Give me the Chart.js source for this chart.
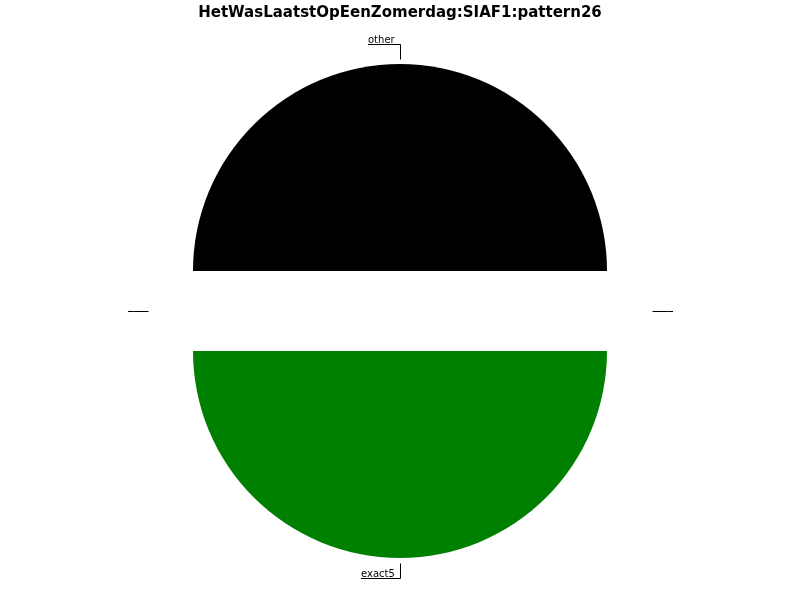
<!DOCTYPE html>
<html>
<head>
<meta charset="utf-8">
<script src="https://cdn.jsdelivr.net/npm/chart.js@4.4.1/dist/chart.umd.min.js"></script>
<style>
  html, body { margin: 0; padding: 0; background: #fff; }
  #wrap { width: 800px; height: 600px; }
</style>
</head>
<body>
<div id="wrap"><canvas id="pieChart"></canvas></div>
<script>
/* =========================
   DATA
========================= */
const titleText = "HetWasLaatstOpEenZomerdag:SIAF1:pattern26";
const sliceLabels = ["other", "", "exact5", ""];
const sliceValues = [50, 0, 50, 0];
const sliceColors = ["#000000", "#ffffff", "#008000", "#ffffff"];

/* =========================
   EXPLODED SLICES
   (move every arc out along its middle angle)
========================= */
const EXPLODE = 40;
const baseArcDraw = Chart.ArcElement.prototype.draw;
Chart.ArcElement.prototype.draw = function(ctx){
    const mid = (this.startAngle + this.endAngle) / 2;
    ctx.save();
    ctx.translate(Math.cos(mid) * EXPLODE, Math.sin(mid) * EXPLODE);
    baseArcDraw.call(this, ctx);
    ctx.restore();
};

/* =========================
   LABELS WITH LEADER LINES
========================= */
const leaderLabels = {
    id: 'leaderLabels',
    afterDatasetsDraw(chart){
        const ctx = chart.ctx;
        const meta = chart.getDatasetMeta(0);
        ctx.save();
        ctx.font = "10px 'DejaVu Sans'";
        ctx.strokeStyle = "#000";
        ctx.fillStyle = "#000";
        ctx.lineWidth = 1;
        ctx.textBaseline = "alphabetic";

        meta.data.forEach((arc, i) => {
            const p = arc.getProps(['x', 'y', 'startAngle', 'endAngle', 'outerRadius'], true);
            const mid = (p.startAngle + p.endAngle) / 2;
            const cx = Math.cos(mid), cy = Math.sin(mid);
            const r1 = p.outerRadius + EXPLODE + 5;
            const r2 = r1 + 15;

            const x1 = Math.round(p.x + cx * r1) + 0.5;
            const y1 = Math.round(p.y + cy * r1) + 0.5;
            const x2 = Math.round(p.x + cx * r2) + 0.5;
            const y2 = Math.round(p.y + cy * r2) + 0.5;

            const text = sliceLabels[i];
            const len = Math.round(ctx.measureText(text).width) + 5;
            const side = cx > 0.5 ? 1 : -1;
            const x3 = x2 + side * (len + 0.5);

            ctx.beginPath();
            ctx.moveTo(x1, y1);
            ctx.lineTo(x2, y2);
            ctx.lineTo(x3, y2);
            ctx.stroke();

            if(text){
                ctx.textAlign = side < 0 ? "left" : "right";
                ctx.fillText(text, x3, y2 - 2);
            }
        });
        ctx.restore();
    }
};

/* =========================
   CHART
========================= */
new Chart(document.getElementById('pieChart'), {
    type: 'pie',
    data: {
        labels: sliceLabels,
        datasets: [{
            data: sliceValues,
            backgroundColor: sliceColors,
            borderWidth: 0,
            radius: 207
        }]
    },
    options: {
        responsive: true,
        maintainAspectRatio: false,
        animation: false,
        events: [],
        rotation: -90,
        layout: { padding: 0 },
        plugins: {
            legend: { display: false },
            tooltip: { enabled: false },
            title: {
                display: true,
                text: titleText,
                color: '#000',
                font: { family: "'DejaVu Sans'", size: 15, weight: 'bold', lineHeight: 1.2 },
                padding: { top: 4, bottom: 0 }
            }
        }
    },
    plugins: [leaderLabels]
});
</script>
</body>
</html>
